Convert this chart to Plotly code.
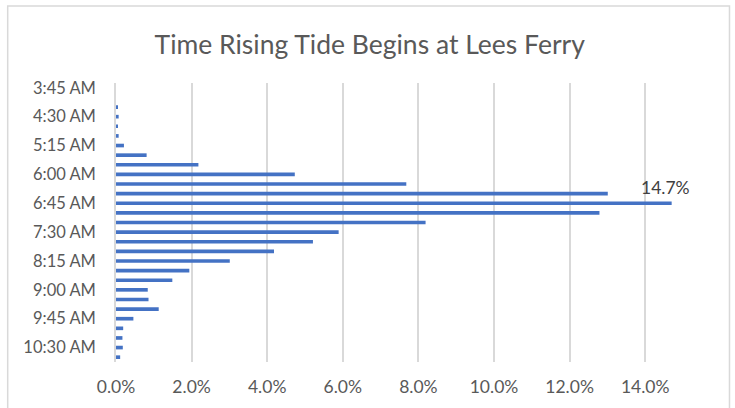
import plotly.graph_objects as go

# 15-minute bins, 3:45 AM .. 10:45 AM
times = ["3:45 AM", "4:00 AM", "4:15 AM", "4:30 AM", "4:45 AM", "5:00 AM", "5:15 AM",
         "5:30 AM", "5:45 AM", "6:00 AM", "6:15 AM", "6:30 AM", "6:45 AM", "7:00 AM",
         "7:15 AM", "7:30 AM", "7:45 AM", "8:00 AM", "8:15 AM", "8:30 AM", "8:45 AM",
         "9:00 AM", "9:15 AM", "9:30 AM", "9:45 AM", "10:00 AM", "10:15 AM", "10:30 AM",
         "10:45 AM"]
share = [0.0, 0.0, 0.0005, 0.0007, 0.0005, 0.0007, 0.0021,
         0.0081, 0.0218, 0.0473, 0.0768, 0.1301, 0.147, 0.1279,
         0.0819, 0.0589, 0.0521, 0.0418, 0.0301, 0.0194, 0.0149,
         0.0084, 0.0086, 0.0113, 0.0046, 0.0019, 0.0017, 0.0018,
         0.0011]
tick_times = times[::3]

FONT = "Lato, 'Open Sans', sans-serif"
GREY = "#595959"

fig = go.Figure(go.Bar(x=share, y=times, orientation="h",
                       marker=dict(color="#4472C4", line=dict(width=0))))

# label the peak bar
peak = max(range(len(share)), key=lambda i: share[i])
fig.add_annotation(x=share[peak], y=times[peak], text=f"{share[peak]:.1%}",
                   showarrow=False, xshift=-6, yshift=16,
                   font=dict(family=FONT, size=17.5, color="#404040"))

# chart border (bottom edge runs off the page)
fig.add_shape(type="rect", xref="paper", yref="paper",
              x0=-0.191, x1=1.082, y0=-0.25, y1=1.276,
              line=dict(color="#d9d9d9", width=1.5))

fig.update_layout(
    title=dict(text="Time Rising Tide Begins at Lees Ferry", x=0.503, xanchor="center",
               y=0.8897, yanchor="middle",
               font=dict(family=FONT, size=26.5, color=GREY)),
    width=735, height=408,
    margin=dict(l=116, r=51.5, t=83, b=46),
    paper_bgcolor="white", plot_bgcolor="white",
    bargap=0.62,
    showlegend=False,
    font=dict(family=FONT, size=17.5, color=GREY),
)
fig.update_xaxes(range=[0, 0.15], tickformat=".1%", dtick=0.02,
                 showgrid=True, gridcolor="#d9d9d9", gridwidth=1.5,
                 zeroline=False, showline=False, ticks="", ticklabelstandoff=12,
                 tickfont=dict(family=FONT, size=17.5, color=GREY))
fig.update_yaxes(categoryorder="array", categoryarray=times, autorange="reversed",
                 tickmode="array", tickvals=tick_times, ticktext=tick_times,
                 showgrid=False, showline=True, linecolor="#d9d9d9", linewidth=1.5,
                 ticks="", ticklabelstandoff=15,
                 tickfont=dict(family=FONT, size=16.5, color=GREY))

# drop the browser's default body margin so the figure sits at the page origin
fig.write_html("out.html", config={"displayModeBar": False},
               post_script="document.body.style.margin = '0';")
